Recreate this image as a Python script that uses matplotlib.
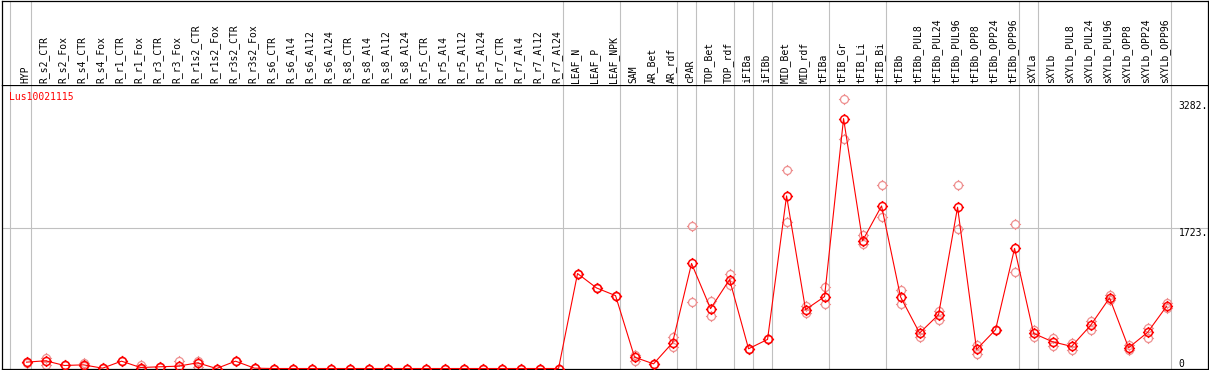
"""Expression profile of one gene across tissues (line + replicates)."""
import numpy as np
import matplotlib
matplotlib.use("Agg")
from matplotlib import pyplot as plt
from matplotlib.path import Path

# Sample names, in plotting order
samples = ["HYP", "R_s2_CTR", "R_s2_Fox", "R_s4_CTR", "R_s4_Fox", "R_r1_CTR",
           "R_r1_Fox", "R_r3_CTR", "R_r3_Fox", "R_r1s2_CTR", "R_r1s2_Fox",
           "R_r3s2_CTR", "R_r3s2_Fox", "R_s6_CTR", "R_s6_Al4", "R_s6_Al12",
           "R_s6_Al24", "R_s8_CTR", "R_s8_Al4", "R_s8_Al12", "R_s8_Al24",
           "R_r5_CTR", "R_r5_Al4", "R_r5_Al12", "R_r5_Al24", "R_r7_CTR",
           "R_r7_Al4", "R_r7_Al12", "R_r7_Al24", "LEAF_N", "LEAF_P", "LEAF_NPK",
           "SAM", "AR_Bet", "AR_rdf", "cPAR", "TOP_Bet", "TOP_rdf", "iFIBa",
           "iFIBb", "MID_Bet", "MID_rdf", "tFIBa", "tFIB_Gr", "tFIB_Li",
           "tFIB_Bi", "tFIBb", "tFIBb_PUL8", "tFIBb_PUL24", "tFIBb_PUL96",
           "tFIBb_OPP8", "tFIBb_OPP24", "tFIBb_OPP96", "sXYLa", "sXYLb",
           "sXYLb_PUL8", "sXYLb_PUL24", "sXYLb_PUL96", "sXYLb_OPP8",
           "sXYLb_OPP24", "sXYLb_OPP96"]

# Mean expression per sample
mean_expr = [78, 95, 37, 45, 4, 90, 12, 21, 29, 70, 0, 90, 4, 0, 0, 0, 0, 0,
             0, 0, 0, 0, 0, 0, 0, 0, 0, 0, 0, 1165, 988, 894, 139, 57, 316,
             1288, 734, 1091, 242, 357, 2117, 722, 882, 3065, 1567, 1994, 878,
             435, 660, 1978, 234, 476, 1473, 431, 328, 271, 529, 866, 254, 443,
             763]

# Individual replicates
rep_a = [85, 127, 37, 70, 4, 90, 37, 21, 86, 98, 0, 90, 4, 0, 0, 0, 0, 0,
         0, 0, 0, 0, 0, 0, 0, 0, 0, 0, 0, 1165, 988, 894, 160, 57, 385,
         1748, 825, 1165, 242, 357, 2437, 763, 997, 3310, 1637, 2248, 960,
         468, 701, 2252, 283, 476, 1772, 468, 373, 317, 582, 902, 288, 496,
         800]
rep_b = [70, 45, 37, 25, 4, 90, 0, 21, 0, 16, 0, 90, 4, 0, 0, 0, 0, 0,
         0, 0, 0, 0, 0, 0, 0, 0, 0, 0, 0, 1165, 988, 894, 98, 57, 262,
         821, 644, 1021, 242, 357, 1793, 681, 796, 2815, 1526, 1862, 796,
         385, 599, 1707, 181, 476, 1178, 385, 279, 227, 468, 840, 227, 377,
         739]

gene = "Lus10021115"
ytick_vals = [0, 1723, 3282]
ytick_labels = ["0", "1723.", "3282."]

# Group separators (column units)
separators = [-0.87, 0.24, 28.24, 31.24, 34.24, 35.24, 37.24, 38.24, 39.24,
              42.24, 45.24, 52.24, 53.24, 60.24]

W, H = 1209, 370
fig = plt.figure(figsize=(W / 100, H / 100), dpi=100)
mono = "DejaVu Sans Mono"
grey = "#c0c0c0"

# Pixel helpers for axes placement
left_px, right_px, hdr_px, bot_px = 1.5, 1208, 85, 369
ax = fig.add_axes([left_px / W, 1 - bot_px / H, (right_px - left_px) / W,
                   (bot_px - hdr_px) / H])
hdr = fig.add_axes([left_px / W, 1 - hdr_px / H, (right_px - left_px) / W,
                    (hdr_px - 0.5) / H], sharex=ax)

x = np.arange(len(samples))
ax.set_xlim(-1.316, 62.18)
ax.set_ylim(-6, 3477)

# Marker: circle with four small ticks
circle = Path.unit_circle()
tick_path = Path([(0, 1), (0, 1.4), (0, -1), (0, -1.4),
                  (1, 0), (1.4, 0), (-1, 0), (-1.4, 0)],
                 [Path.MOVETO, Path.LINETO] * 4)
gear = Path.make_compound_path(circle, tick_path)

for a in (ax, hdr):
    for s in separators:
        a.axvline(s, color=grey, lw=0.8, zorder=0)
    a.set_xticks([])
    a.set_yticks([])
    for sp in a.spines.values():
        sp.set_linewidth(0.9)
        sp.set_color("black")

hdr.spines["bottom"].set_visible(False)
ax.axhline(ytick_vals[1], color=grey, lw=0.8, zorder=0)

# Replicates
for reps in (rep_a, rep_b):
    ax.plot(x, reps, ls="none", marker=gear, ms=8, mfc="none",
            mec="#ee9090", mew=0.9, zorder=2, clip_on=False)
# Mean line
ax.plot(x, mean_expr, color="#ff0000", lw=0.8, marker=gear, ms=8,
        mfc="none", mec="#ff0000", mew=1.1, zorder=3, clip_on=False)

# Sample labels in the header
for i, name in enumerate(samples):
    hdr.text(i - 0.08, 0.025, name, rotation=90, ha="center", va="bottom",
             fontsize=7, family=mono, transform=hdr.get_xaxis_transform())

# Gene name
ax.annotate(gene, xy=(0, 1), xycoords="axes fraction", xytext=(7, -7),
            textcoords="offset pixels", ha="left", va="top", color="#ff0000",
            fontsize=7, family=mono)

# Right-hand value labels
for v, lab in zip(ytick_vals, ytick_labels):
    ax.text(0.9755, v, lab, ha="left", va="bottom" if v == 0 else "top",
            fontsize=7, family=mono, transform=ax.get_yaxis_transform())

fig.savefig("out.png", dpi=100)
plt.close(fig)
